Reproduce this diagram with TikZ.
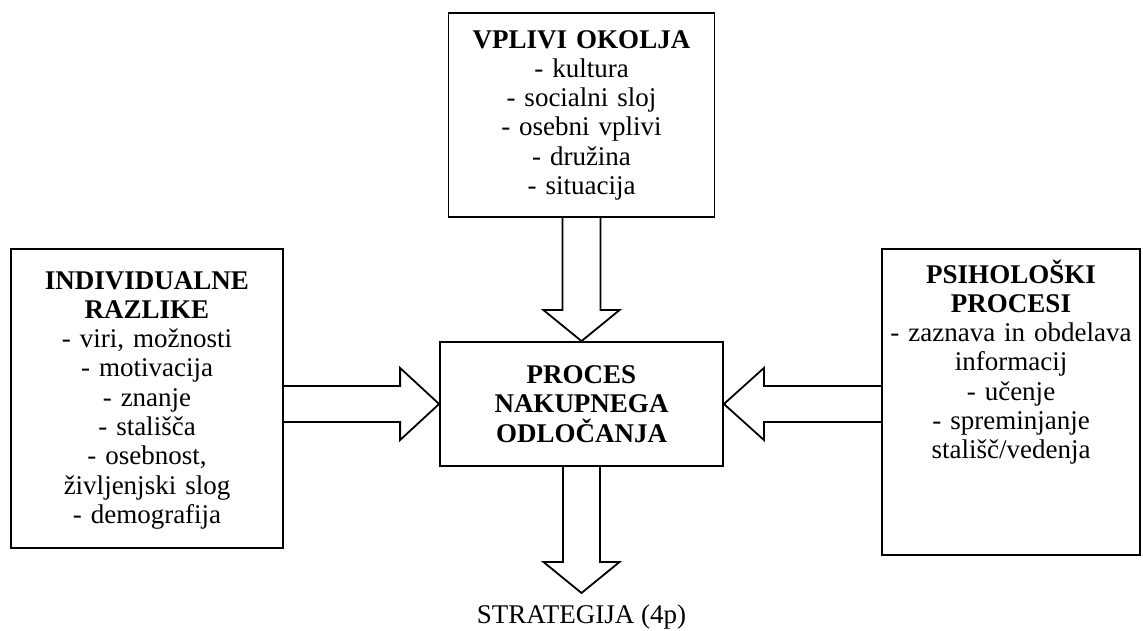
\documentclass[tikz,border=0pt]{standalone}
\usepackage{fontspec}
\setmainfont{Liberation Serif}
\usetikzlibrary{calc}
\begin{document}
\begin{tikzpicture}[x=1pt,y=1pt,
  box/.style={draw, line width=1.8pt, inner sep=0pt},
  txt/.style={align=center, inner sep=0pt, font=\fontsize{27}{29.3}\selectfont},
  barrow/.style={draw, line width=1.8pt, line join=miter}]
\useasboundingbox (0,0) rectangle (1143,630);
% boxes
\node[box, minimum width=266pt, minimum height=204pt] (top) at (581.5,515) {};
\node[txt, text width=262pt, anchor=base] (toptxt) at ($(top.north)+(0,-36)$)
  {\textbf{VPLIVI OKOLJA}\\- kultura\\- socialni sloj\\- osebni vplivi\\- družina\\- situacija};
\node[box, minimum width=272pt, minimum height=299pt] (left) at (147,231.5) {};
\node[txt, text width=268pt, anchor=base] (lefttxt) at ($(left.north)+(0,-41)$)
  {\textbf{INDIVIDUALNE}\\\textbf{RAZLIKE}\\- viri, možnosti\\- motivacija\\- znanje\\- stališča\\- osebnost,\\življenjski slog\\- demografija};
\node[box, minimum width=258pt, minimum height=306pt] (right) at (1011,228) {};
\node[txt, text width=256pt, anchor=base] (righttxt) at ($(right.north)+(0,-35)$)
  {\textbf{PSIHOLOŠKI}\\\textbf{PROCESI}\\- zaznava in obdelava\\informacij\\- učenje\\- spreminjanje\\stališč/vedenja};
\node[box, txt, text width=283pt, minimum height=124pt] (proc) at (581.5,226)
  {\textbf{PROCES}\\\textbf{NAKUPNEGA}\\\textbf{ODLOČANJA}};
% block arrows
\draw[barrow] ($(top.south)+(-19,0)$) -- ($(proc.north)+(-19,31)$) -- ($(proc.north)+(-38,31)$)
  -- (proc.north) -- ($(proc.north)+(38,31)$) -- ($(proc.north)+(19,31)$) -- ($(top.south)+(19,0)$);
\coordinate (la) at (left.east |- proc.west);
\draw[barrow] ($(la)+(0,18)$) -- ($(proc.west)+(-39,18)$) -- ($(proc.west)+(-39,36)$)
  -- (proc.west) -- ($(proc.west)+(-39,-36)$) -- ($(proc.west)+(-39,-18)$) -- ($(la)+(0,-18)$);
\coordinate (ra) at (right.west |- proc.east);
\draw[barrow] ($(ra)+(0,18)$) -- ($(proc.east)+(40,18)$) -- ($(proc.east)+(40,36)$)
  -- (proc.east) -- ($(proc.east)+(40,-36)$) -- ($(proc.east)+(40,-18)$) -- ($(ra)+(0,-18)$);
\node[txt, anchor=base] (strat) at (581.5,7) {STRATEGIJA (4p)};
\coordinate (btip) at (581.5,37);
\draw[barrow] ($(proc.south)+(-18.5,0)$) -- ($(btip)+(-18.5,31)$) -- ($(btip)+(-38,31)$)
  -- (btip) -- ($(btip)+(38,31)$) -- ($(btip)+(18.5,31)$) -- ($(proc.south)+(18.5,0)$);
\end{tikzpicture}
\end{document}
